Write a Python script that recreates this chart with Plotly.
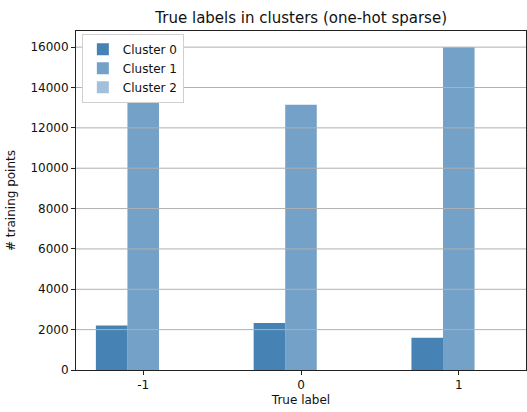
import plotly.graph_objects as go

categories = [-1, 0, 1]
cluster0 = [2200, 2330, 1600]
cluster1 = [13240, 13140, 15990]
cluster2 = [0, 0, 0]
series_names = ["Cluster 0", "Cluster 1", "Cluster 2"]
tick_labels = ["-1", "0", "1"]
y_ticks = [0, 2000, 4000, 6000, 8000, 10000, 12000, 14000, 16000]

colors = ["#4682b4", "rgba(70,130,180,0.75)", "rgba(70,130,180,0.5)"]
offsets = [-0.3, -0.1, 0.1]

fig = go.Figure()
for name, vals, col, off in zip(series_names, [cluster0, cluster1, cluster2], colors, offsets):
    fig.add_trace(go.Bar(
        x=categories, y=vals, name=name, width=0.2, offset=off,
        marker=dict(color=col, line=dict(width=0)),
    ))

# grid lines drawn above the bars (as in the matplotlib original)
for t in y_ticks[1:]:
    fig.add_shape(type="line", xref="paper", x0=0, x1=1, yref="y", y0=t, y1=t,
                  line=dict(color="#b0b0b0", width=1), layer="above")

fig.update_layout(
    width=527, height=412,
    margin=dict(l=76, r=1, t=31, b=42),
    paper_bgcolor="white", plot_bgcolor="white",
    font=dict(family="DejaVu Sans", size=12, color="#111"),
    title=dict(text="True labels in clusters (one-hot sparse)", x=0.5715, xanchor="center",
               y=0.958, yanchor="middle", font=dict(size=15, color="#111")),
    barmode="overlay",
    showlegend=True,
    legend=dict(x=0.013, y=0.992, xanchor="left", yanchor="top",
                bordercolor="#d0d0d0", borderwidth=1, bgcolor="white",
                font=dict(size=12, color="#111"), tracegroupgap=0, itemsizing="constant"),
    xaxis=dict(range=[-1.426, 1.426], tickvals=categories, ticktext=tick_labels,
               showgrid=False, zeroline=False, showline=True, linecolor="#222", linewidth=1,
               mirror=True, ticks="outside", ticklen=4, tickcolor="#222",
               title=dict(text="True label", font=dict(size=12), standoff=4)),
    yaxis=dict(range=[0, 16800], tickvals=y_ticks, ticktext=[str(v) for v in y_ticks],
               showgrid=False, zeroline=False,
               showline=True, linecolor="#222", linewidth=1, mirror=True,
               ticks="outside", ticklen=4, tickcolor="#222",
               title=dict(text="# training points", font=dict(size=12), standoff=12)),
)

fig.write_html("out.html")
